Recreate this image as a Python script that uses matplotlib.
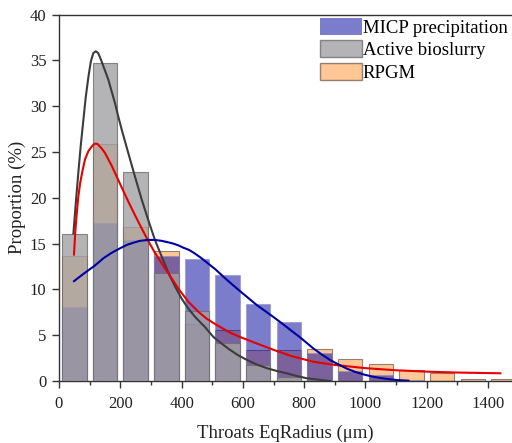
import numpy as np
import matplotlib
matplotlib.use("Agg")
import matplotlib.pyplot as plt
from matplotlib.patches import Patch

plt.rcParams["font.family"] = ["Liberation Serif", "DejaVu Serif"]

# Histogram bins (throat equivalent radius, um)
bin_centers = [50, 150, 250, 350, 450, 550, 650, 750, 850, 950, 1050, 1150, 1250, 1350, 1450]
micp = [8.1, 17.2, 15.4, 13.7, 13.3, 11.55, 8.45, 6.4, 3.1, 1.1, 0.7, 0.1, 0, 0, 0]
active = [16.1, 34.7, 22.8, 11.8, 7.6, 4.1, 1.75, 0.4, 0.15, 0, 0, 0, 0, 0, 0]
rpgm = [13.7, 25.9, 16.8, 14.2, 6.2, 5.57, 3.4, 3.4, 3.45, 2.4, 1.8, 1.2, 0.85, 0.2, 0.2]

# Fitted distribution curves
active_fit_x = [47, 55, 63, 71, 79, 87, 96, 104, 112, 120, 128, 139, 150, 161, 172, 183,
                194, 205, 226, 248, 270, 291, 313, 335, 357, 379, 400, 422, 444, 476, 504,
                530, 558, 585, 613, 645, 678, 710, 743, 775, 808, 852, 885]
active_fit_y = [16.1, 19.5, 22.7, 25.7, 28.3, 30.9, 33.2, 34.9, 35.8, 36.0, 35.8, 34.9, 33.9,
                32.9, 31.6, 30.3, 28.8, 27.4, 24.9, 22.3, 19.8, 17.6, 15.4, 13.6, 11.8, 10.3,
                9.0, 7.9, 7.0, 5.9, 4.8, 4.1, 3.4, 2.8, 2.3, 1.8, 1.4, 1.1, 0.84, 0.55, 0.3,
                0.12, 0.0]

rpgm_fit_x = [49, 53, 58, 63, 69, 77, 85, 96, 107, 116, 125, 139, 150, 161, 172, 183, 205,
              226, 248, 270, 291, 313, 335, 357, 389, 422, 455, 482, 510, 536, 563, 591, 618,
              645, 700, 760, 830, 900, 1000, 1100, 1200, 1300, 1440]
rpgm_fit_y = [13.8, 16.2, 18.3, 20.1, 21.6, 23.0, 24.2, 25.1, 25.6, 25.9, 25.9, 25.4, 24.9,
              24.2, 23.5, 22.7, 21.1, 19.6, 18.1, 16.65, 15.3, 14.0, 12.85, 11.75, 10.1, 8.65,
              7.55, 6.8, 6.2, 5.7, 5.2, 4.8, 4.45, 4.1, 3.4, 2.7, 2.1, 1.75, 1.4, 1.17, 1.02,
              0.92, 0.84]

micp_fit_x = [49, 80, 117, 145, 172, 200, 221, 243, 264, 290, 313, 335, 355, 373, 390, 406,
              425, 444, 463, 482, 510, 536, 563, 591, 618, 645, 672, 699, 727, 754, 787, 830,
              857, 884, 912, 939, 966, 993, 1020, 1048, 1075, 1100, 1140]
micp_fit_y = [10.9, 11.7, 12.6, 13.4, 14.0, 14.5, 14.85, 15.1, 15.3, 15.4, 15.4, 15.3, 15.15,
              15.0, 14.8, 14.55, 14.3, 13.9, 13.45, 12.95, 12.2, 11.4, 10.6, 9.8, 9.05, 8.3,
              7.65, 7.0, 6.3, 5.6, 4.75, 3.55, 2.9, 2.3, 1.8, 1.35, 1.0, 0.72, 0.5, 0.33, 0.2,
              0.11, 0.03]

fig = plt.figure(figsize=(5.12, 4.43), dpi=100)
ax = fig.add_axes([0.1152, 0.140, 0.8848, 0.827])

bar_w = 80
orange_c = "#ff912d"
blue_c = "#1010a3"
gray_c = "#a2a2a5"
ax.bar(bin_centers, rpgm, width=bar_w, color=orange_c, alpha=0.5,
       edgecolor="#2a1e14", linewidth=0.8, zorder=2)
ax.bar(bin_centers, micp, width=bar_w, color=blue_c, alpha=0.55,
       edgecolor="#8a8ac0", linewidth=0.8, zorder=3)
ax.bar(bin_centers, active, width=bar_w, color=gray_c, alpha=0.8,
       edgecolor="#6e6e6e", linewidth=0.8, zorder=4)

ax.plot(active_fit_x, active_fit_y, color="#3c3c3c", lw=1.5, zorder=5)
ax.plot(rpgm_fit_x, rpgm_fit_y, color="#e60000", lw=1.5, zorder=6)
ax.plot(micp_fit_x, micp_fit_y, color="#0000a0", lw=1.5, zorder=7)

ax.set_xlim(0, 1478)
ax.set_ylim(0, 40)
ax.set_xticks(np.arange(0, 1401, 200))
ax.set_xticks(np.arange(100, 1500, 200), minor=True)
ax.set_yticks(np.arange(0, 41, 5))

for side in ["left", "bottom", "top"]:
    ax.spines[side].set_color("#333333")
    ax.spines[side].set_linewidth(1.0)
ax.spines["right"].set_visible(False)

ax.tick_params(axis="both", which="major", direction="out", length=5, width=1.0,
               labelsize=12, colors="#333333", labelcolor="#222222")
ax.tick_params(axis="x", which="minor", direction="out", length=3, width=1.0, colors="#333333")
ax.tick_params(axis="x", which="major", pad=6)
ax.tick_params(axis="y", which="major", pad=4)

ax.set_xlabel("Throats EqRadius (μm)", fontsize=13.5, color="#222222", labelpad=9)
ax.set_ylabel("Proportion (%)", fontsize=13.5, color="#222222", labelpad=3)

handles = [
    Patch(facecolor=blue_c, alpha=0.55, edgecolor="none", label="MICP precipitation"),
    Patch(facecolor=gray_c, alpha=0.8, edgecolor="#6e6e6e", label="Active bioslurry"),
    Patch(facecolor=orange_c, alpha=0.5, edgecolor="#2a1e14", label="RPGM"),
]
ax.legend(handles=handles, loc="upper right", bbox_to_anchor=(1.015, 1.022), frameon=False,
          fontsize=13.5, handlelength=2.2, handleheight=1.0, handletextpad=0.05,
          labelspacing=0.2, borderaxespad=0.2)

fig.savefig("out.png", dpi=100)
